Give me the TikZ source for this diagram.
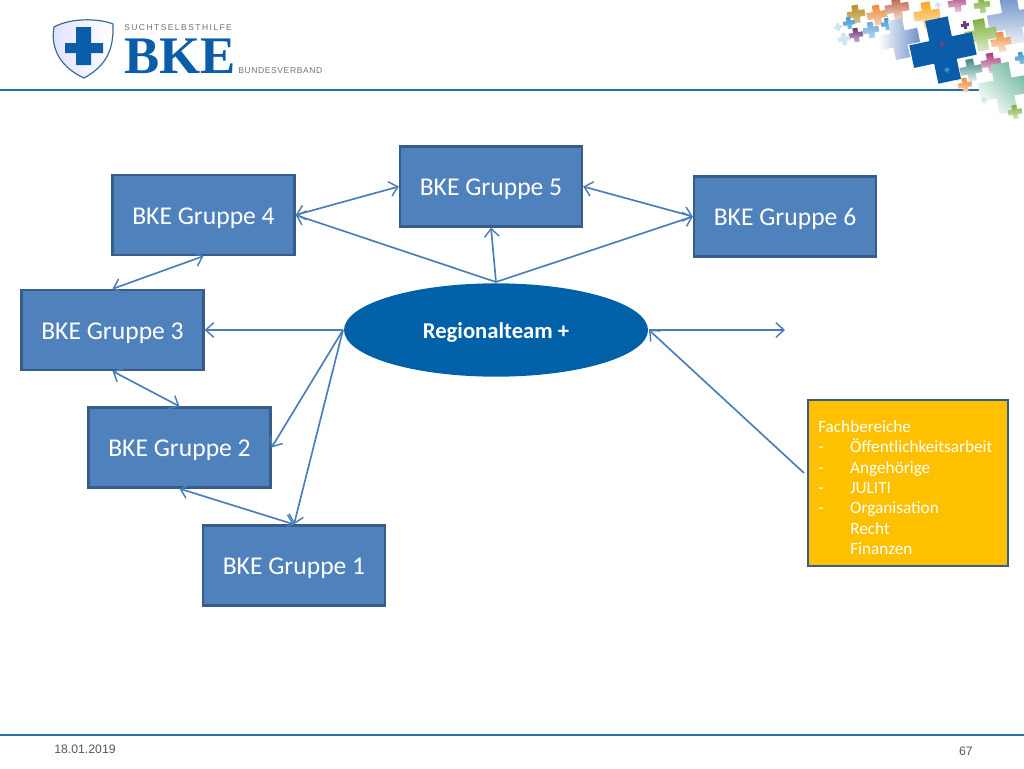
\documentclass[tikz,border=0pt]{standalone}
\usepackage{fontspec}
\setmainfont{Carlito}
\newfontfamily\arialf{Liberation Sans}
\newfontfamily\logoserif{Liberation Serif}
\usetikzlibrary{arrows.meta,shapes.geometric}
\definecolor{boxfill}{HTML}{4F81BD}
\definecolor{boxline}{HTML}{385D8A}
\definecolor{linkc}{HTML}{4A7EBB}
\definecolor{bkeblue}{HTML}{0C5DA9}
\definecolor{ellfill}{HTML}{0060A8}
\definecolor{rule}{HTML}{1F72B0}
\definecolor{gold}{HTML}{FFC000}
\definecolor{cOlive}{HTML}{B8902A}
\definecolor{cOrange}{HTML}{EE8A3C}
\definecolor{cBrown}{HTML}{B5543F}
\definecolor{cCyan}{HTML}{3C9AD0}
\definecolor{cSky}{HTML}{6FA8DC}
\definecolor{cViolet}{HTML}{6A3A7E}
\definecolor{cPale}{HTML}{CFE6F2}
\definecolor{cSlate}{HTML}{6E8FC8}
\definecolor{cGold}{HTML}{F7A823}
\definecolor{cMagenta}{HTML}{A83A78}
\definecolor{cGreen}{HTML}{7FB03C}
\definecolor{cTeal}{HTML}{6FB8A0}
\definecolor{cDkTeal}{HTML}{3F8A86}
\definecolor{cYellow}{HTML}{D8C830}
\tikzset{
 x=0.75pt,y=-0.75pt,
 gruppe/.style={draw=boxline,fill=boxfill,line width=1.7pt,minimum width=136.5pt,minimum height=60pt,inner sep=0pt,text=white,text height=18pt,text depth=4pt,font=\fontsize{19.2}{22}\selectfont},
 link/.style={draw=linkc,line width=1.25pt,{Straight Barb[length=6pt,width=11pt,line width=1.1pt]}-{Straight Barb[length=6pt,width=11pt,line width=1.1pt]}},
 oneway/.style={draw=linkc,line width=1.25pt,-{Straight Barb[length=6pt,width=11pt,line width=1.1pt]}},
 hrule/.style={draw=rule,line width=1.5pt},
 foot/.style={font=\arialf\fontsize{9.2}{11}\selectfont,text=black!65,inner sep=0pt},
}
\newcommand{\plusshape}[7]{% x y size rot dark light shading-angle
 \begin{scope}[shift={(#1,#2)},rotate=#4]
 \shade[top color=#5,bottom color=#6,shading angle=#7]
 (-.36*#3,-#3)--(.36*#3,-#3)--(.36*#3,-.36*#3)--(#3,-.36*#3)--(#3,.36*#3)--(.36*#3,.36*#3)--(.36*#3,#3)--(-.36*#3,#3)--(-.36*#3,.36*#3)--(-#3,.36*#3)--(-#3,-.36*#3)--(-.36*#3,-.36*#3)--cycle;
 \end{scope}}
\begin{document}
\begin{tikzpicture}
\useasboundingbox (0,0) rectangle (1024,768);
\fill[white] (0,0) rectangle (1024,768);
% rules
\draw[hrule] (0,89.5) -- (980,89.5);
\draw[hrule] (0,735) -- (1024,735);
% logo shield
\shade[left color=blue!12!white,right color=white,draw=bkeblue!75!black!80,line width=.9pt]
 (54,27) .. controls (70,18) and (98,18) .. (113,24)
 .. controls (114,50) and (106,66) .. (84,78)
 .. controls (62,68) and (50,50) .. (54,27) -- cycle;
\fill[bkeblue] (76,27)--(91,27)--(91,43)--(103,43)--(103,53)--(91,53)--(91,65)--(76,65)--(76,53)--(65,53)--(65,43)--(76,43)--cycle;
\node[anchor=west,inner sep=0pt,text=black!55,font=\arialf\fontsize{6.4}{7}\selectfont] (t1) at (124,28) {S\,U\,C\,H\,T\,S\,E\,L\,B\,S\,T\,H\,I\,L\,F\,E};
\node[anchor=south west,inner sep=0pt,text=bkeblue,text height=26pt,text depth=0pt,font=\logoserif\bfseries\fontsize{39.6}{40}\selectfont] (t2) at (124,73.5) {BKE};
\node[anchor=west,inner sep=0pt,text=black!55,font=\arialf\fontsize{6.4}{7}\selectfont] (t3) at (238,70.5) {B\kern.45pt U\kern.45pt N\kern.45pt D\kern.45pt E\kern.45pt S\kern.45pt V\kern.45pt E\kern.45pt R\kern.45pt B\kern.45pt A\kern.45pt N\kern.45pt D};
% deco crosses
\plusshape{856}{14}{9}{10}{cOlive}{cOlive!55!white}{0}
\plusshape{877}{15}{10}{10}{cOrange}{cOrange!40!white}{0}
\plusshape{897}{8}{12}{10}{cBrown}{cOrange!25!white}{0}
\plusshape{849}{23}{6}{10}{cCyan}{cCyan!60!white}{0}
\plusshape{871}{30}{8}{10}{cSky}{cSky!50!white}{0}
\plusshape{887}{24}{6}{10}{cCyan}{cCyan!60!white}{0}
\plusshape{856}{35}{7}{10}{cViolet}{cViolet!40!white}{0}
\plusshape{838}{27}{4}{10}{cPale}{cPale}{0}
\plusshape{844}{39}{6}{10}{cPale}{cPale}{0}
\plusshape{899}{39}{20}{12}{cSlate}{white}{-90}
\plusshape{927}{15}{13}{8}{cGold}{cGold!35!white}{0}
\plusshape{938}{5}{3}{10}{cPale}{cPale}{0}
\plusshape{957}{3}{9}{10}{cMagenta}{cMagenta!25!white}{0}
\plusshape{982}{5}{8}{10}{cGreen}{cGreen!50!white}{0}
\plusshape{1012}{20}{24}{10}{cSlate}{cSlate!12!white}{0}
\plusshape{981}{35}{16}{10}{cGreen}{cGreen!25!white}{0}
\plusshape{1001}{42}{10}{10}{cOrange}{cOrange!20!white}{0}
\plusshape{991}{63}{10}{10}{cMagenta}{cMagenta!20!white}{0}
\plusshape{1021}{58}{6}{10}{cCyan}{cCyan!60!white}{0}
\plusshape{1004}{88}{25}{10}{cTeal}{cTeal!5!white}{-45}
\plusshape{1015}{112}{7}{10}{cGreen}{cGreen!30!white}{0}
\plusshape{971}{70}{11}{10}{cDkTeal}{cDkTeal!15!white}{0}
\plusshape{965}{85}{7}{10}{cOrange}{cOrange!35!white}{0}
\plusshape{957}{77}{3.5}{10}{cYellow}{cYellow}{0}
\plusshape{984}{100}{3}{10}{cPale}{cPale}{0}
\plusshape{943}{50}{32}{12}{bkeblue}{bkeblue}{0}
\plusshape{942}{44}{3}{10}{cMagenta!50!bkeblue}{cMagenta!50!bkeblue}{0}
\plusshape{947}{70}{2.5}{10}{cCyan}{cCyan}{0}
\plusshape{965}{25}{4}{10}{cViolet}{cViolet}{0}
% boxes
\node[gruppe] (g5) at (491,186.5) {BKE Gruppe 5};
\node[gruppe] (g4) at (203.5,215) {BKE Gruppe 4};
\node[gruppe] (g6) at (785,216.5) {BKE Gruppe 6};
\node[gruppe] (g3) at (112.5,330) {BKE Gruppe 3};
\node[gruppe] (g2) at (179.5,447.5) {BKE Gruppe 2};
\node[gruppe] (g1) at (294,565.5) {BKE Gruppe 1};
\node[ellipse,fill=ellfill,minimum width=228pt,minimum height=70pt,inner sep=0pt,text=white,text height=15.5pt,text depth=3pt,font=\bfseries\fontsize{17}{20}\selectfont] (rt) at (496,330) {Regionalteam +};
\node[draw=boxline,fill=gold,line width=1.5pt,minimum width=150pt,minimum height=125pt,inner sep=0pt,anchor=north west] (fb) at (807,398.5) {};
\node[anchor=north west,inner sep=0pt,text=white,font=\fontsize{12.9}{15.3}\selectfont,align=left] (fbt) at (818,420) {Fachbereiche\\-\hspace{20pt}Öffentlichkeitsarbeit\\-\hspace{20pt}Angehörige\\-\hspace{20pt}JULITI\\-\hspace{20pt}Organisation\\\hspace{24pt}Recht\\\hspace{24pt}Finanzen};
% connector free ends
\coordinate (apex) at (496,282);
\coordinate (left) at (343,330);
\coordinate (right) at (649,330);
\coordinate (free) at (785,330);
\coordinate (fbout) at (804,473);
% connectors
\draw[link] (g4.east) -- (g5.west);
\draw[link] (g5.east) -- (g6.west);
\draw[oneway] (apex) -- (g4.east);
\draw[oneway] (apex) -- (g5.south);
\draw[oneway] (apex) -- (g6.west);
\draw[link] (g4.south) -- (g3.north);
\draw[link] (g3.south) -- (g2.north);
\draw[link] (g2.south) -- (g1.north);
\draw[oneway] (left) -- (g3.east);
\draw[oneway] (left) -- (g2.east);
\draw[oneway] (left) -- (g1.north);
\draw[oneway] (right) -- (free);
\draw[oneway] (fbout) -- (right);
% footer
\node[foot,anchor=west] (date) at (54,749) {18.01.2019};
\node[foot,anchor=east] (page) at (973,751) {67};
\end{tikzpicture}
\end{document}
